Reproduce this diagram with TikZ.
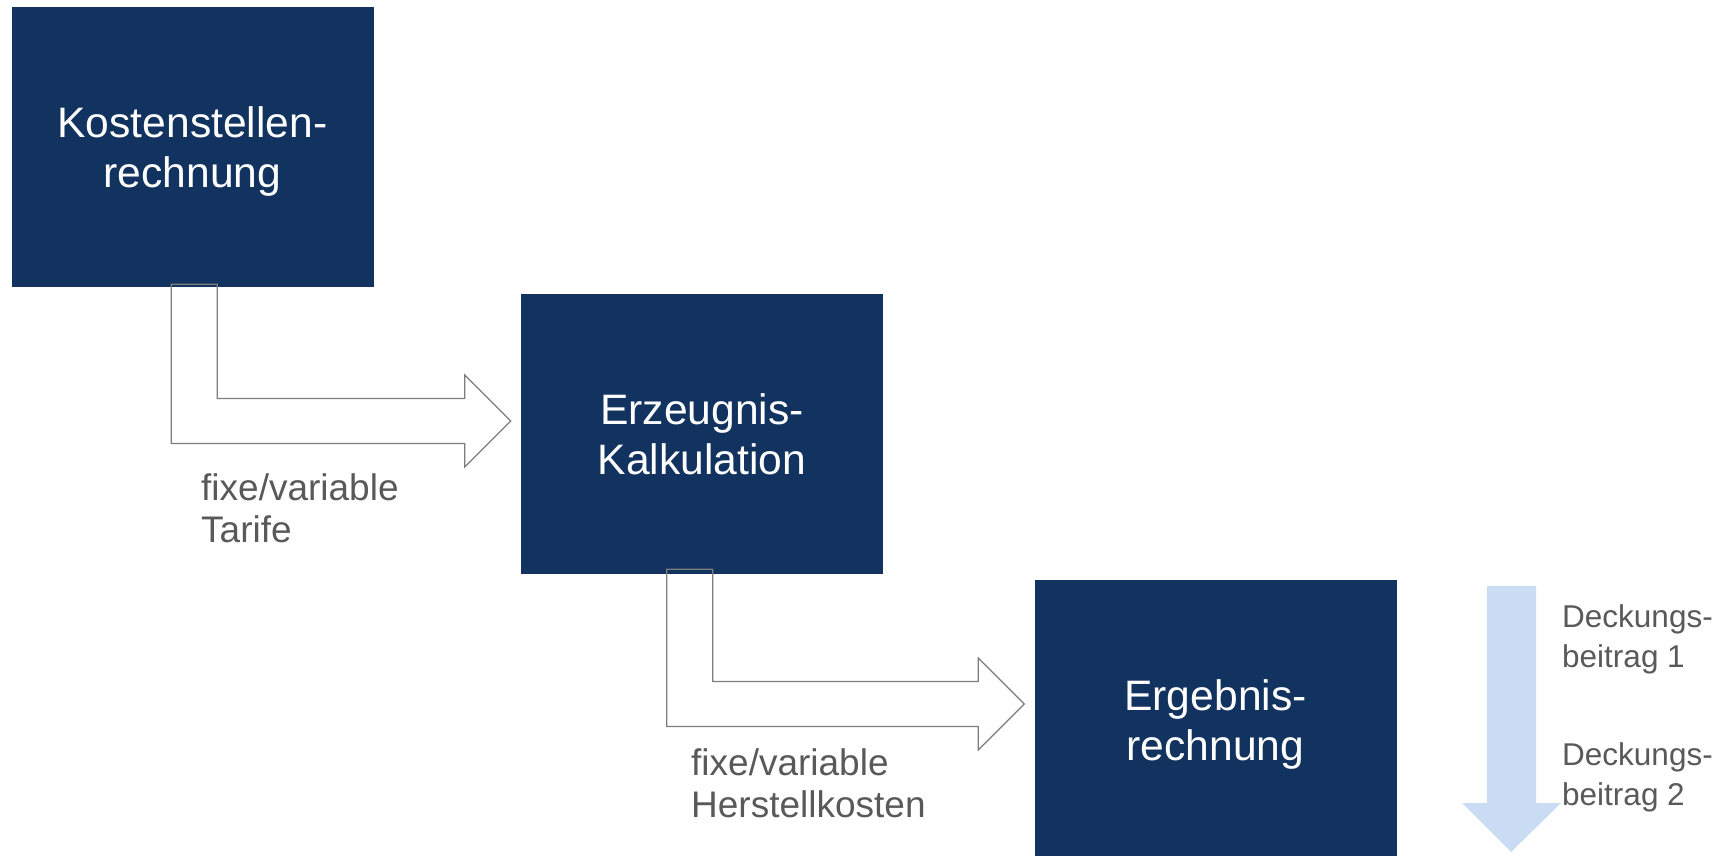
\documentclass[tikz,border=0pt]{standalone}
\usepackage{fontspec}
\setmainfont{Liberation Sans}
\usetikzlibrary{calc}
\definecolor{navy}{RGB}{18,51,95}
\definecolor{lightblue}{RGB}{202,220,243}
\definecolor{txtgray}{RGB}{89,89,89}
\definecolor{linegray}{RGB}{125,125,125}

\begin{document}
\begin{tikzpicture}[
    x=1pt, y=-1pt,
    box/.style = {rectangle, fill=navy, minimum height=280pt, minimum width=362pt,
                 align=center, text=white, inner sep=0pt, text depth=-3pt,
                 font=\fontsize{42.6}{50}\selectfont},
    lbl/.style = {anchor=north west, align=left, text=txtgray, inner sep=0pt,
                 font=\fontsize{37}{42.5}\selectfont},
    db/.style = {anchor=north west, align=left, text=txtgray, inner sep=0pt,
                 font=\fontsize{31.5}{40}\selectfont},
    hollow/.style = {draw=linegray, line width=1.2pt}
]
\useasboundingbox (0,0) rectangle (1724,856);

% Boxes
\node[box] (kst) at (192.5,147) {Kostenstellen-\\rechnung};
\node[box] (erz) at (702,434) {Erzeugnis-\\Kalkulation};
\node[box] (erg) at (1215.5,720) {Ergebnis-\\rechnung};

% Bent arrows (start of shaft, tip)
\coordinate (a1s) at ($(kst.south west)+(160,-3)$);
\coordinate (a1t) at ($(erz.west)+(-10,-13)$);
\coordinate (a2s) at ($(erz.south west)+(146,-5)$);
\coordinate (a2t) at ($(erg.west)+(-10,-16)$);

\foreach \s/\t in {a1s/a1t, a2s/a2t}
  \draw[hollow] (\s) -- ++(46,0) |- ($(\t)+(-46,-22.5)$) -- ($(\t)+(-46,-46)$) -- (\t)
     -- ($(\t)+(-46,46)$) -- ($(\t)+(-46,22.5)$) -| (\s) -- cycle;

% Labels
\node[lbl] (tarif) at (201,473) {fixe/variable\\Tarife};
\node[lbl] (hk) at (691,748) {fixe/variable\\Herstellkosten};

% Contribution margins
\fill[lightblue] (1487,586) -- (1536,586) -- (1536,803) -- (1561,803) -- (1511,852)
  -- (1462,803) -- (1487,803) -- cycle;
\node[db] (db1) at (1562,604) {Deckungs-\\beitrag 1};
\node[db] (db2) at (1562,742) {Deckungs-\\beitrag 2};

\end{tikzpicture}
\end{document}
